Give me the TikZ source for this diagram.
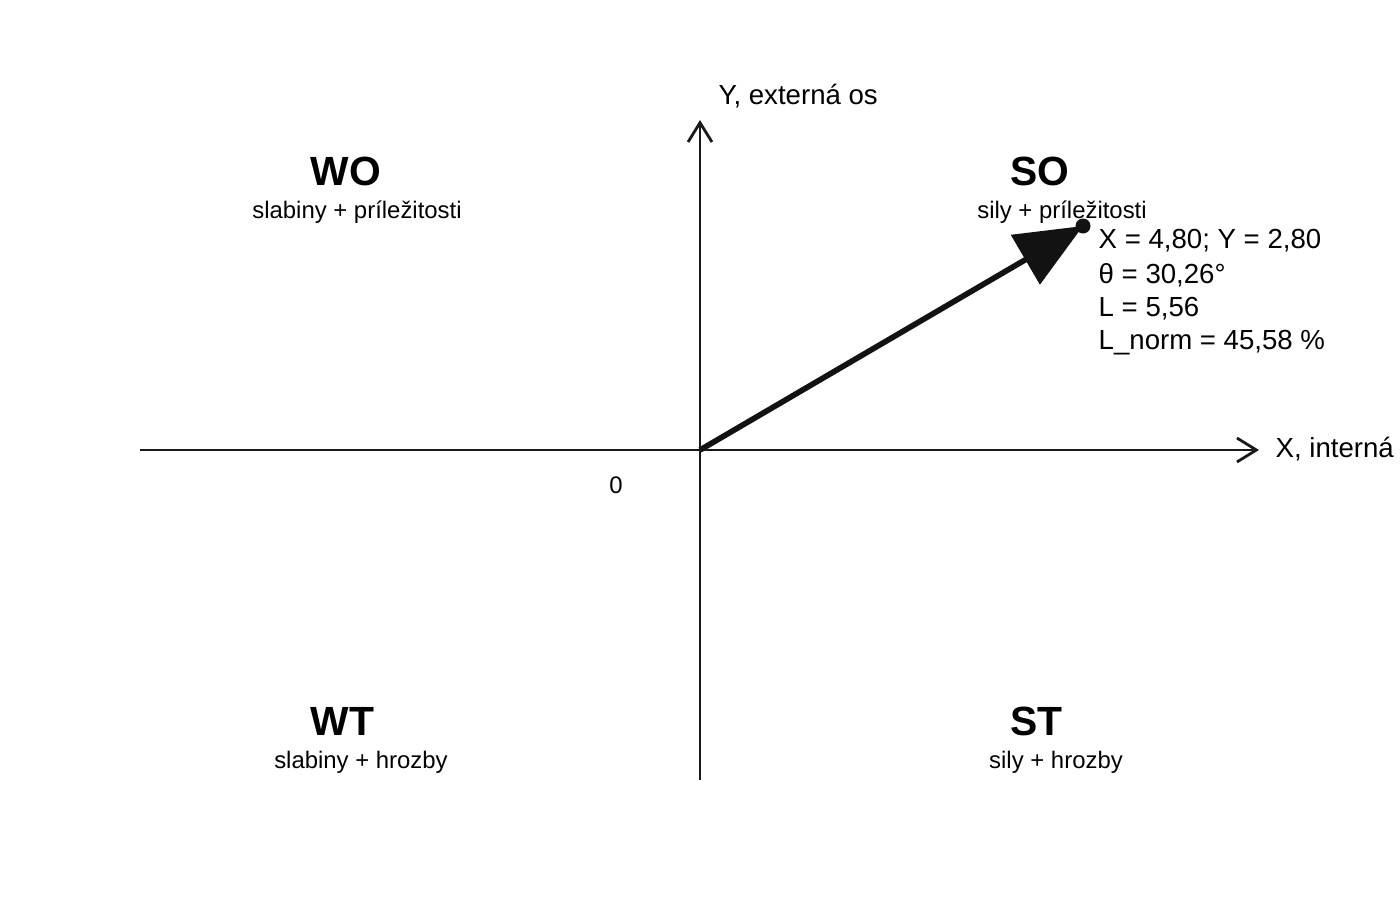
\documentclass[tikz,border=0pt]{standalone}
\usepackage{fontspec}
\setmainfont{Liberation Sans}
\usetikzlibrary{arrows.meta}
\begin{document}
\begin{tikzpicture}[x=0.01cm,y=-0.01cm,
 lab/.style={font=\fontsize{7.85}{9.4}\selectfont,inner sep=0},
 sub/.style={font=\fontsize{6.8}{8}\selectfont,inner sep=0},
 head/.style={font=\fontsize{11.6}{13}\selectfont\bfseries,inner sep=0},
 axis/.style={line width=0.8pt,draw=black!90,-{Straight Barb[length=5.5pt,width=6.8pt,line width=0.8pt]}}]
\useasboundingbox (0,0) rectangle (1400,900);
\coordinate (o) at (700,450);
\coordinate (xl) at (140,450);
\coordinate (xr) at (1259,450);
\coordinate (yb) at (700,780);
\coordinate (yt) at (700,120);
\draw[axis] (xl) -- (xr);
\draw[axis] (yb) -- (yt);
\node[lab,anchor=west] (xlab) at (1275,449) {X, interná os};
\node[lab,anchor=west] (ylab) at (718,96) {Y, externá os};
\node[sub] (zero) at (616,485) {0};
\node[head,anchor=west] (wo) at (310,171) {WO};
\node[sub] (wos) at (357,212) {slabiny + príležitosti};
\node[head,anchor=west] (so) at (1010,171) {SO};
\node[sub] (sos) at (1062,212) {sily + príležitosti};
\node[head,anchor=west] (wt) at (310,721) {WT};
\node[sub] (wts) at (361,762) {slabiny + hrozby};
\node[head,anchor=west] (st) at (1010,721) {ST};
\node[sub] (sts) at (1056,762) {sily + hrozby};
\coordinate (tip) at (1083,226);
\fill[black!93] (tip) circle (7.5);
\draw[line width=1.6pt,black!93,-{Triangle[length=19pt,width=16pt]}] (o) -- (tip);
\node[lab,anchor=west] (v1) at (1098,241) {X = 4,80; Y = 2,80};
\node[lab,anchor=west] (v2) at (1098,275) {θ = 30,26°};
\node[lab,anchor=west] (v3) at (1098,309) {L = 5,56};
\node[lab,anchor=west] (v4) at (1098,343) {L\_norm = 45,58 \%};
\end{tikzpicture}
\end{document}
